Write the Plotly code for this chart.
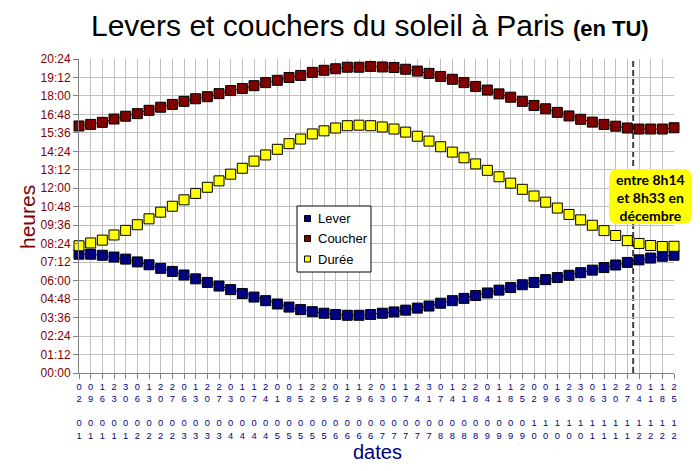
import plotly.graph_objects as go

# ---------------- data ----------------
DATES = ["02/01", "09/01", "16/01", "23/01", "30/01", "06/02", "13/02", "20/02", "27/02",
         "06/03", "13/03", "20/03", "27/03", "03/04", "10/04", "17/04", "24/04",
         "01/05", "08/05", "15/05", "22/05", "29/05", "05/06", "12/06", "19/06", "26/06",
         "03/07", "10/07", "17/07", "24/07", "31/07", "07/08", "14/08", "21/08", "28/08",
         "04/09", "11/09", "18/09", "25/09", "02/10", "09/10", "16/10", "23/10", "30/10",
         "06/11", "13/11", "20/11", "27/11", "04/12", "11/12", "18/12", "25/12"]

LEVER = ["07:43", "07:43", "07:39", "07:32", "07:24", "07:13", "07:02", "06:48", "06:36",
         "06:22", "06:07", "05:53", "05:39", "05:25", "05:10", "04:56", "04:42",
         "04:29", "04:17", "04:07", "03:59", "03:53", "03:48", "03:45", "03:45", "03:48",
         "03:53", "03:58", "04:05", "04:13", "04:21", "04:32", "04:42", "04:51", "05:02",
         "05:12", "05:23", "05:33", "05:44", "05:53", "06:04", "06:12", "06:21", "06:31",
         "06:41", "06:51", "07:01", "07:11", "07:21", "07:28", "07:35", "07:39"]

COUCHER = ["16:03", "16:09", "16:17", "16:30", "16:41", "16:51", "17:04", "17:16", "17:27",
           "17:39", "17:49", "17:57", "18:09", "18:21", "18:29", "18:40", "18:52",
           "19:01", "19:12", "19:20", "19:32", "19:40", "19:46", "19:52", "19:52", "19:55",
           "19:53", "19:51", "19:44", "19:37", "19:28", "19:16", "19:05", "18:52", "18:37",
           "18:23", "18:08", "17:55", "17:39", "17:23", "17:10", "16:56", "16:42", "16:29",
           "16:18", "16:09", "16:02", "15:55", "15:51", "15:51", "15:51", "15:56"]

DUREE = ["08:16", "08:27", "08:38", "08:58", "09:16", "09:38", "10:01", "10:27", "10:50",
         "11:15", "11:40", "12:04", "12:29", "12:55", "13:18", "13:46", "14:10",
         "14:32", "14:54", "15:12", "15:32", "15:44", "15:55", "16:04", "16:06", "16:04",
         "15:59", "15:51", "15:39", "15:23", "15:04", "14:42", "14:21", "13:59", "13:35",
         "13:10", "12:45", "12:20", "11:56", "11:30", "11:06", "10:43", "10:18", "09:57",
         "09:36", "09:15", "08:56", "08:36", "08:25", "08:17", "08:13", "08:14"]

Y_TICKS = ["00:00", "01:12", "02:24", "03:36", "04:48", "06:00", "07:12", "08:24", "09:36",
           "10:48", "12:00", "13:12", "14:24", "15:36", "16:48", "18:00", "19:12", "20:24"]

SERIES_NAMES = ["Lever", "Coucher", "Durée"]
DEC_START = 47.5          # position of 1st December on the date axis
NOTE_TEXT = "entre 8h14<br>et 8h33 en<br>décembre"
TITLE_MAIN = "Levers et couchers du soleil à Paris"
TITLE_SUB = "(en TU)"


def to_min(s):
    h, m = s.split(":")
    return int(h) * 60 + int(m)


# ---------------- layout geometry ----------------
W, H = 700, 471
L, R, T, B = 79, 26, 59, 98
PW, PH = W - L - R, H - T - B


def px(x):
    return (x - L) / PW


def py(y):
    return (H - B - y) / PH


NAVY = "#000080"
MAROON = "#800000"
YELLOW = "#ffff00"
GRID = "#c0c0c0"
COLORS = [NAVY, MAROON, YELLOW]

xs = list(range(len(DATES)))
ticktext = ["<br>".join([d[0], d[1], "\u00a0", d[3], d[4]]) for d in DATES]

fig = go.Figure()
for name, vals, col in zip(SERIES_NAMES, [LEVER, COUCHER, DUREE], COLORS):
    fig.add_trace(go.Scatter(
        x=xs, y=[to_min(v) for v in vals], name=name, mode="lines+markers",
        line=dict(color=col, width=1),
        marker=dict(symbol="square", size=10, color=col, line=dict(color="black", width=1)),
        showlegend=False, cliponaxis=False,
    ))

shapes = []
annotations = []

# dashed December marker
shapes.append(dict(type="line", xref="x", yref="paper", x0=DEC_START, x1=DEC_START, y0=0, y1=1,
                   line=dict(color="#404040", width=2, dash="6px,3px"), layer="between"))

# rounded yellow note box
bx0, by0, bx1, by1, r = 609, 169, 692, 224, 9
pts = [
    ("M", [(bx0 + r, by0)]), ("L", [(bx1 - r, by0)]), ("Q", [(bx1, by0), (bx1, by0 + r)]),
    ("L", [(bx1, by1 - r)]), ("Q", [(bx1, by1), (bx1 - r, by1)]), ("L", [(bx0 + r, by1)]),
    ("Q", [(bx0, by1), (bx0, by1 - r)]), ("L", [(bx0, by0 + r)]), ("Q", [(bx0, by0), (bx0 + r, by0)]),
]
path = " ".join(c + " " + " ".join(f"{px(a):.5f},{py(b):.5f}" for a, b in p) for c, p in pts) + " Z"
shapes.append(dict(type="path", xref="paper", yref="paper", path=path,
                   fillcolor=YELLOW, line=dict(width=0), layer="above"))
annotations.append(dict(xref="paper", yref="paper", x=px(650.5), y=py(197), text="<b>" + NOTE_TEXT + "</b>",
                        showarrow=False, font=dict(family="Lato", size=14, color="black"),
                        xanchor="center", yanchor="middle", align="center"))

# legend (manual)
shapes.append(dict(type="rect", xref="paper", yref="paper", x0=px(297), x1=px(371), y0=py(206), y1=py(272),
                   fillcolor="white", line=dict(color="black", width=1), layer="above"))
for i, (name, col) in enumerate(zip(SERIES_NAMES, COLORS)):
    cy = [218.5, 238.5, 259][i]
    shapes.append(dict(type="rect", xref="paper", yref="paper", x0=px(304.5), x1=px(310.5),
                       y0=py(cy - 3), y1=py(cy + 3), fillcolor=col,
                       line=dict(color="black", width=1), layer="above"))
    annotations.append(dict(xref="paper", yref="paper", x=px(316), y=py(cy), text=name,
                            showarrow=False, xanchor="left", yanchor="middle",
                            font=dict(family="Liberation Sans", size=13, color="black")))

# title
annotations.append(dict(xref="paper", yref="paper", x=px(370), y=py(25),
                        text=TITLE_MAIN + " <b><span style='font-size:22px'>" + TITLE_SUB + "</span></b>",
                        showarrow=False, xanchor="center", yanchor="middle",
                        font=dict(family="Liberation Sans", size=30, color="black")))
# axis titles
annotations.append(dict(xref="paper", yref="paper", x=px(377), y=py(452), text="dates",
                        showarrow=False, xanchor="center", yanchor="middle",
                        font=dict(family="Liberation Sans", size=20, color=NAVY)))
annotations.append(dict(xref="paper", yref="paper", x=px(27), y=py(217), text="heures",
                        showarrow=False, xanchor="center", yanchor="middle", textangle=-90,
                        font=dict(family="Liberation Sans", size=21, color=MAROON)))

fig.update_layout(
    width=W, height=H, margin=dict(l=L, r=R, t=T, b=B, autoexpand=False),
    paper_bgcolor="white", plot_bgcolor="white",
    shapes=shapes, annotations=annotations, showlegend=False,
    xaxis=dict(range=[0, len(DATES) - 1], tickvals=xs, ticktext=ticktext, tickangle=0,
               showgrid=True, gridcolor=GRID, gridwidth=1, zeroline=False,
               showline=True, linecolor="#808080", linewidth=1, mirror=False,
               ticks="outside", ticklen=5, tickcolor="#808080",
               tickfont=dict(family="Liberation Sans", size=9.3, color=NAVY), fixedrange=True),
    yaxis=dict(range=[0, to_min(Y_TICKS[-1])], tickvals=[to_min(t) for t in Y_TICKS], ticktext=Y_TICKS,
               showgrid=True, gridcolor=GRID, gridwidth=1, zeroline=False,
               showline=True, linecolor="#808080", linewidth=1,
               ticks="outside", ticklen=5, tickcolor="#808080",
               tickfont=dict(family="Liberation Sans", size=12, color=MAROON), fixedrange=True),
)

fig.write_html("out.html", config={"displayModeBar": False},
               post_script="document.body.style.margin='0';")
